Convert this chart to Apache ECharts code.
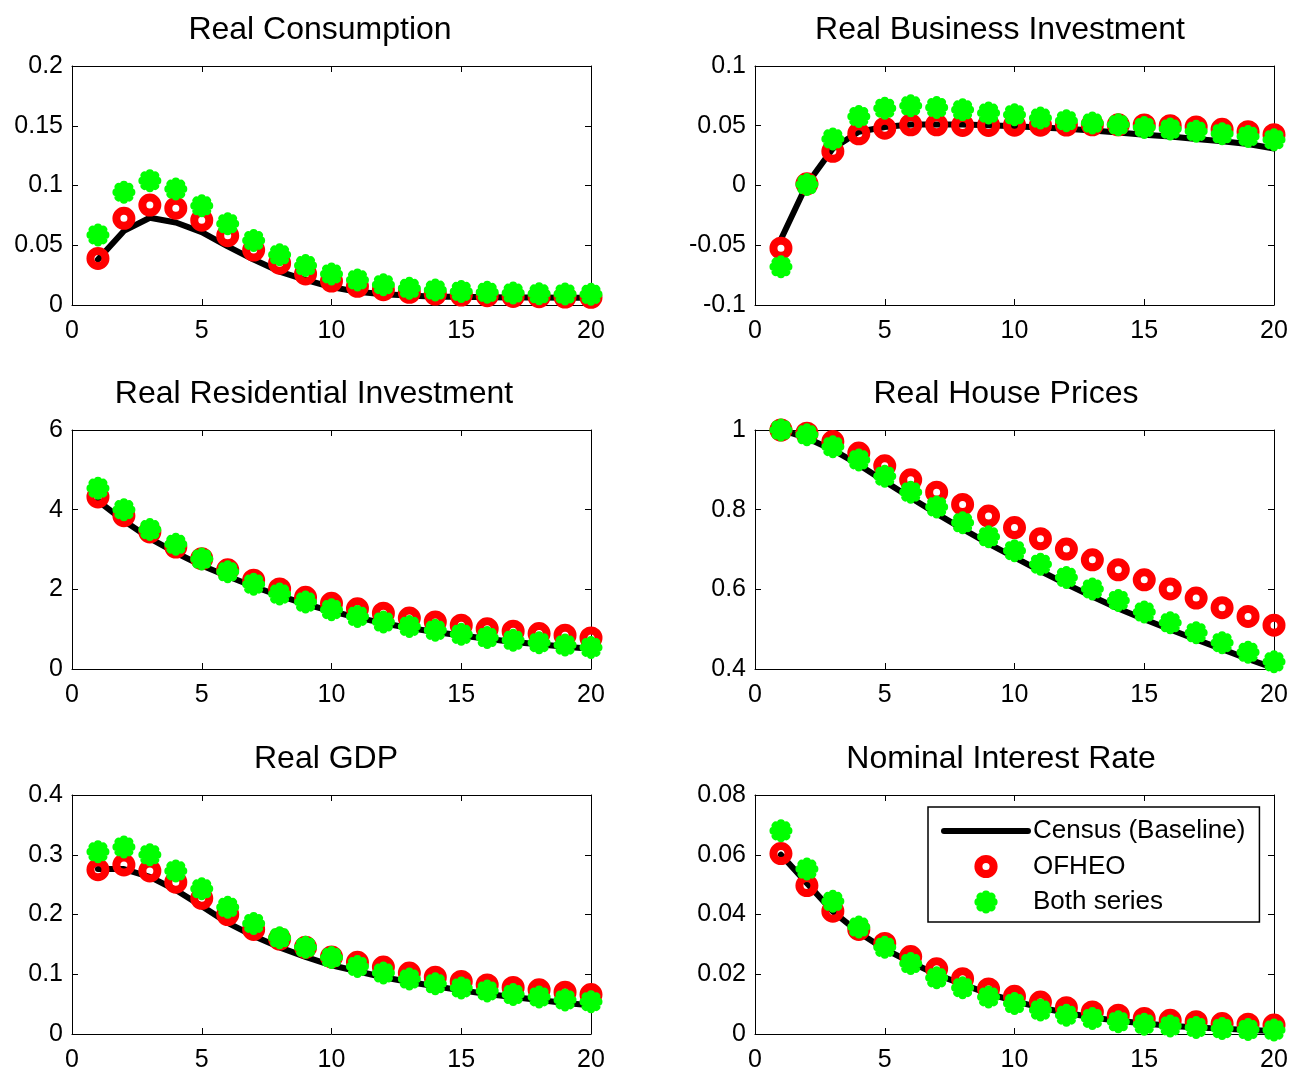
<!DOCTYPE html>
<html>
<head>
<meta charset="utf-8">
<title>Impulse responses</title>
<script src="https://cdn.jsdelivr.net/npm/echarts@6/dist/echarts.min.js"></script>
<style>
  html, body { margin: 0; padding: 0; background: #ffffff; }
  #chart { width: 1291px; height: 1070px; }
</style>
</head>
<body>
<div id="chart"></div>
<script>
// ---- data ----------------------------------------------------------------
const periods = [1, 2, 3, 4, 5, 6, 7, 8, 9, 10, 11, 12, 13, 14, 15, 16, 17, 18, 19, 20];
const xTicks = [0, 5, 10, 15, 20];
const seriesNames = ['Census (Baseline)', 'OFHEO', 'Both series'];
const panelTitles = ['Real Consumption', 'Real Business Investment', 'Real Residential Investment',
                     'Real House Prices', 'Real GDP', 'Nominal Interest Rate'];

const consumptionTicks = [0, 0.05, 0.1, 0.15, 0.2];
const consumptionCensus = [0.038, 0.062, 0.073, 0.069, 0.061, 0.049, 0.038, 0.028, 0.021, 0.015, 0.011, 0.009, 0.008, 0.007, 0.0068, 0.0065, 0.0063, 0.0062, 0.006, 0.006];
const consumptionOfheo = [0.039, 0.0725, 0.0836, 0.081, 0.071, 0.058, 0.046, 0.035, 0.026, 0.020, 0.0156, 0.0128, 0.0106, 0.0092, 0.0083, 0.0078, 0.0072, 0.0070, 0.0067, 0.0064];
const consumptionBoth = [0.0586, 0.0944, 0.104, 0.097, 0.083, 0.068, 0.054, 0.042, 0.033, 0.026, 0.021, 0.017, 0.014, 0.0125, 0.0114, 0.0106, 0.010, 0.0094, 0.0092, 0.0089];

const businessTicks = [-0.1, -0.05, 0, 0.05, 0.1];
const businessCensus = [-0.045, 0.001, 0.031, 0.045, 0.049, 0.051, 0.051, 0.051, 0.0505, 0.0495, 0.0486, 0.0475, 0.046, 0.0444, 0.0425, 0.041, 0.039, 0.037, 0.0347, 0.031];
const businessOfheo = [-0.0525, 0.0014, 0.0286, 0.0433, 0.048, 0.0508, 0.0508, 0.0503, 0.0503, 0.0505, 0.0505, 0.0506, 0.0508, 0.0508, 0.0507, 0.050, 0.049, 0.047, 0.045, 0.0425];
const businessBoth = [-0.068, 0.0008, 0.039, 0.0578, 0.0647, 0.0667, 0.0653, 0.0633, 0.0606, 0.0592, 0.0564, 0.0542, 0.0522, 0.0508, 0.0486, 0.0472, 0.0453, 0.0433, 0.0411, 0.0383];

const residentialTicks = [0, 2, 4, 6];
const residentialCensus = [4.22, 3.72, 3.28, 2.92, 2.60, 2.33, 2.07, 1.84, 1.63, 1.45, 1.29, 1.15, 1.03, 0.93, 0.84, 0.76, 0.68, 0.62, 0.56, 0.51];
const residentialOfheo = [4.32, 3.85, 3.44, 3.06, 2.77, 2.49, 2.23, 2.01, 1.80, 1.65, 1.51, 1.40, 1.28, 1.18, 1.10, 1.01, 0.95, 0.89, 0.85, 0.78];
const residentialBoth = [4.54, 4.00, 3.50, 3.13, 2.76, 2.44, 2.13, 1.88, 1.68, 1.49, 1.32, 1.18, 1.07, 0.97, 0.87, 0.79, 0.72, 0.66, 0.60, 0.54];

const housePriceTicks = [0.4, 0.6, 0.8, 1];
const housePriceCensus = [1.0, 0.98, 0.95, 0.913, 0.871, 0.83, 0.79, 0.752, 0.715, 0.68, 0.646, 0.613, 0.582, 0.552, 0.525, 0.499, 0.474, 0.45, 0.425, 0.402];
const housePriceOfheo = [1.0, 0.992, 0.971, 0.942, 0.910, 0.875, 0.844, 0.813, 0.784, 0.755, 0.727, 0.701, 0.674, 0.649, 0.624, 0.601, 0.578, 0.554, 0.532, 0.510];
const housePriceBoth = [1.0, 0.988, 0.958, 0.925, 0.884, 0.844, 0.807, 0.767, 0.732, 0.697, 0.663, 0.630, 0.601, 0.572, 0.543, 0.516, 0.491, 0.466, 0.442, 0.418];

const gdpTicks = [0, 0.1, 0.2, 0.3, 0.4];
const gdpCensus = [0.276, 0.276, 0.263, 0.241, 0.214, 0.186, 0.164, 0.145, 0.129, 0.115, 0.105, 0.095, 0.087, 0.080, 0.073, 0.067, 0.062, 0.057, 0.052, 0.048];
const gdpOfheo = [0.275, 0.283, 0.273, 0.254, 0.227, 0.200, 0.175, 0.159, 0.145, 0.129, 0.120, 0.112, 0.102, 0.095, 0.088, 0.082, 0.078, 0.074, 0.070, 0.066];
const gdpBoth = [0.305, 0.313, 0.300, 0.273, 0.243, 0.212, 0.185, 0.161, 0.145, 0.128, 0.113, 0.102, 0.092, 0.084, 0.077, 0.072, 0.066, 0.062, 0.057, 0.054];

const rateTicks = [0, 0.02, 0.04, 0.06, 0.08];
const rateCensus = [0.060, 0.0505, 0.041, 0.034, 0.0284, 0.024, 0.0199, 0.0166, 0.0135, 0.011, 0.0088, 0.0071, 0.0055, 0.0044, 0.0035, 0.0028, 0.0022, 0.0018, 0.0013, 0.001];
const rateOfheo = [0.0604, 0.0497, 0.0411, 0.035, 0.0303, 0.0259, 0.0218, 0.0185, 0.0151, 0.0126, 0.0107, 0.0088, 0.0074, 0.0063, 0.0052, 0.0046, 0.0041, 0.0035, 0.0033, 0.003];
const rateBoth = [0.068, 0.0552, 0.0444, 0.0358, 0.029, 0.0236, 0.0188, 0.0155, 0.0124, 0.0102, 0.008, 0.0063, 0.0052, 0.0041, 0.0033, 0.0027, 0.0022, 0.0018, 0.0015, 0.0013];

const panels = [
  { title: panelTitles[0], ticks: consumptionTicks, lines: [consumptionCensus, consumptionOfheo, consumptionBoth] },
  { title: panelTitles[1], ticks: businessTicks, lines: [businessCensus, businessOfheo, businessBoth] },
  { title: panelTitles[2], ticks: residentialTicks, lines: [residentialCensus, residentialOfheo, residentialBoth] },
  { title: panelTitles[3], ticks: housePriceTicks, lines: [housePriceCensus, housePriceOfheo, housePriceBoth] },
  { title: panelTitles[4], ticks: gdpTicks, lines: [gdpCensus, gdpOfheo, gdpBoth] },
  { title: panelTitles[5], ticks: rateTicks, lines: [rateCensus, rateOfheo, rateBoth] }
];

// ---- layout and styling ---------------------------------------------------
const FONT = '"Liberation Sans", Arial, Helvetica, sans-serif';
const colLeft = [72, 755];
const rowTop = [66, 430, 795];
const plotW = 519, plotH = 239;
const titleCenterX = [320, 1000, 314, 1006, 326, 1001];
const titleMidOffset = -36;   // title text middle, relative to plot top

const RED = '#ff0000', GREEN = '#00ff00', BLACK = '#000000';
// eight-spoke asterisk, stroked thick with round caps
const asteriskPath = 'path://M0,-1L0,1M-1,0L1,0M-0.7071,-0.7071L0.7071,0.7071M-0.7071,0.7071L0.7071,-0.7071';

// tidy tick text: 0.7999999999 -> 0.8
const tickText = (v) => String(parseFloat(Number(v).toPrecision(10)));

const grids = [], xAxes = [], yAxes = [], series = [], titles = [];

function tickStep(t) { return t[1] - t[0]; }

panels.forEach((p, i) => {
  const col = i % 2, row = Math.floor(i / 2);
  grids.push({
    left: colLeft[col], top: rowTop[row], width: plotW, height: plotH,
    containLabel: false, outerBoundsMode: 'none'
  });
  titles.push({
    text: p.title,
    left: titleCenterX[i], top: rowTop[row] + titleMidOffset,
    textAlign: 'center', textVerticalAlign: 'middle', padding: 0,
    textStyle: { fontFamily: FONT, fontSize: 32, fontWeight: 'normal', color: BLACK }
  });

  const axisLine = { show: true, onZero: false, lineStyle: { color: BLACK, width: 1 } };
  const axisTick = { show: true, inside: true, length: 6, lineStyle: { color: BLACK, width: 1 } };
  const labelStyle = { fontFamily: FONT, fontSize: 25, color: BLACK, formatter: tickText };

  ['bottom', 'top'].forEach((pos) => {
    xAxes.push({
      type: 'value', gridIndex: i, position: pos,
      min: xTicks[0], max: xTicks[xTicks.length - 1], interval: tickStep(xTicks),
      axisLine, axisTick,
      axisLabel: Object.assign({ show: pos === 'bottom', margin: 14, showMinLabel: true, showMaxLabel: true }, labelStyle),
      splitLine: { show: false }
    });
  });
  ['left', 'right'].forEach((pos) => {
    yAxes.push({
      type: 'value', gridIndex: i, position: pos,
      min: p.ticks[0], max: p.ticks[p.ticks.length - 1], interval: tickStep(p.ticks),
      axisLine, axisTick,
      axisLabel: Object.assign({ show: pos === 'left', margin: 9, showMinLabel: true, showMaxLabel: true }, labelStyle),
      splitLine: { show: false }
    });
  });

  const xi = 2 * i, yi = 2 * i;
  const toPoints = (vals) => periods.map((t, k) => [t, vals[k]]);

  series.push({
    name: seriesNames[0], type: 'line', xAxisIndex: xi, yAxisIndex: yi,
    data: toPoints(p.lines[0]), symbol: 'none', clip: false, silent: true,
    lineStyle: { color: BLACK, width: 6, cap: 'round', join: 'round' },
    itemStyle: { color: BLACK }, emphasis: { disabled: true }, z: 2
  });
  series.push({
    name: seriesNames[1], type: 'line', xAxisIndex: xi, yAxisIndex: yi,
    data: toPoints(p.lines[1]), symbol: 'circle', symbolSize: 15, showAllSymbol: true,
    clip: false, silent: true,
    lineStyle: { width: 0, opacity: 0 },
    itemStyle: { color: 'transparent', borderColor: RED, borderWidth: 8 },
    emphasis: { disabled: true }, z: 3
  });
  series.push({
    name: seriesNames[2], type: 'line', xAxisIndex: xi, yAxisIndex: yi,
    data: toPoints(p.lines[2]), symbol: asteriskPath, symbolSize: 15, showAllSymbol: true,
    clip: false, silent: true,
    lineStyle: { width: 0, opacity: 0 },
    itemStyle: { color: GREEN, borderColor: GREEN, borderWidth: 8, borderCap: 'round', borderJoin: 'round' },
    emphasis: { disabled: true }, z: 4
  });
});

const chart = echarts.init(document.getElementById('chart'), null, { renderer: 'canvas' });
chart.setOption({
  animation: false,
  backgroundColor: '#ffffff',
  textStyle: { fontFamily: FONT },
  title: titles,
  grid: grids,
  xAxis: xAxes,
  yAxis: yAxes,
  legend: {
    orient: 'vertical', left: 928, top: 807,
    padding: [11, 14, 7, 13],
    itemWidth: 84, itemHeight: 19, itemGap: 9.5,
    borderColor: BLACK, borderWidth: 1.5, backgroundColor: '#ffffff',
    selectedMode: false,
    textStyle: { fontFamily: FONT, fontSize: 26, color: BLACK, lineHeight: 25 },
    data: [
      { name: seriesNames[0], lineStyle: { color: BLACK, width: 6, cap: 'round' }, itemStyle: { opacity: 0 } },
      { name: seriesNames[1], itemStyle: { color: 'transparent', borderColor: RED, borderWidth: 8 } },
      { name: seriesNames[2], itemStyle: { color: GREEN, borderColor: GREEN, borderWidth: 8, borderCap: 'round', borderJoin: 'round' } }
    ]
  },
  series
});
</script>
</body>
</html>
